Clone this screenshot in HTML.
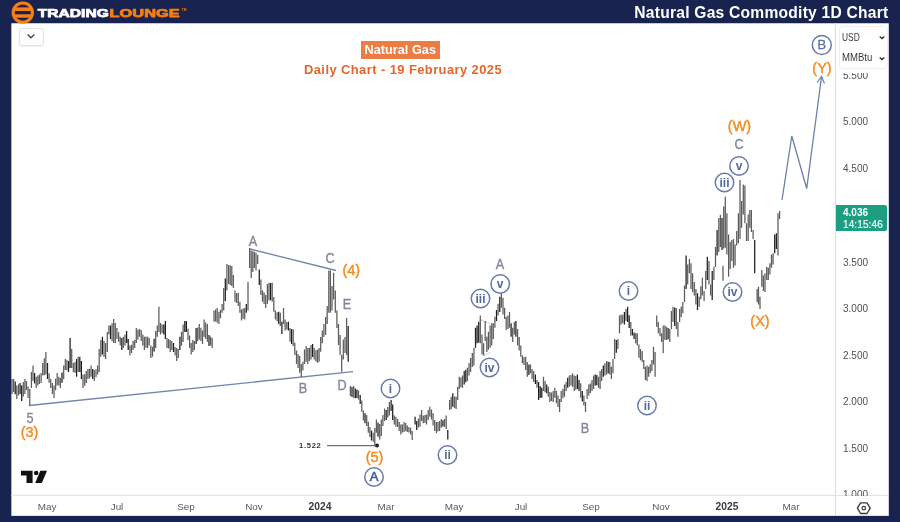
<!DOCTYPE html>
<html><head><meta charset="utf-8">
<style>
html,body{margin:0;padding:0;}
body{width:900px;height:522px;overflow:hidden;background:#18244f;font-family:"Liberation Sans",sans-serif;position:relative;}
#chart{position:absolute;left:11px;top:23px;width:878px;height:493px;background:#fff;}
#svg{position:absolute;left:0;top:0;will-change:transform;}
.t{position:absolute;white-space:nowrap;line-height:1;}
.ax{font-size:10px;color:#505050;margin-top:.5px;}
.tm{font-size:9.9px;color:#5a5a5a;top:502.3px;transform:translateX(-50%);}
.tm.b{font-weight:bold;color:#3a3a3a;font-size:10.3px;top:502px;}
.w{font-size:14px;transform:translate(-50%,-50%) scaleX(.9);}
.g{color:#82869e;-webkit-text-stroke:.35px #82869e;}
.o{color:#f78a1e;font-weight:normal;-webkit-text-stroke:.42px #f78a1e;font-size:14.5px;transform:translate(-50%,-50%);}
.c{position:absolute;width:20px;height:20px;border:0 solid #6a7dab;border-radius:50%;transform:translate(-50%,-50%);box-sizing:content-box;}
.c span{position:absolute;left:50%;top:50%;transform:translate(-50%,-52%);font-size:12px;font-weight:bold;color:#5169a1;line-height:1;white-space:nowrap;}
</style></head><body>
<svg id="svg" width="900" height="522" viewBox="0 0 900 522">
<rect x="11.35" y="23.25" width="877.45" height="492.6" fill="#fff"/>
<!-- axes -->
<line x1="11" y1="495.5" x2="889" y2="495.5" stroke="#e3e3e3" stroke-width="1"/>
<line x1="835.5" y1="23" x2="835.5" y2="516" stroke="#dcdcdc" stroke-width="1"/>
<!-- trend lines -->
<line x1="29" y1="405.5" x2="353" y2="371.7" stroke="#7485ad" stroke-width="1.3"/>
<line x1="250" y1="249" x2="336" y2="270.5" stroke="#7485ad" stroke-width="1.3"/>
<line x1="480.8" y1="319.8" x2="491.1" y2="323.9" stroke="#8b9bd0" stroke-width="0.9" stroke-dasharray="1.5 1.2"/>
<line x1="483.8" y1="356" x2="489.8" y2="352.5" stroke="#8b9bd0" stroke-width="0.9" stroke-dasharray="1.5 1.2"/>
<!-- 1.522 line -->
<line x1="327" y1="445.6" x2="376" y2="445.6" stroke="#707070" stroke-width="1.3"/>
<circle cx="377" cy="445.6" r="2" fill="#222"/>
<!-- forecast -->
<polyline points="782,200 791.8,136 806.7,188.5 821.5,77" fill="none" stroke="#6c7faa" stroke-width="1.3" stroke-linejoin="miter"/>
<polyline points="817,82.5 821.5,76.5 824.5,83.5" fill="none" stroke="#6c7faa" stroke-width="1.2"/>
<path d="M12.0 379.0V394.0M13.6 379.0V392.0M16.8 385.5V399.0M18.5 384.2V395.5M23.3 382.0V396.4M24.9 379.0V394.0M26.5 381.0V390.0M28.1 386.5V398.1M29.8 389.0V405.5M31.4 372.0V388.0M33.0 365.5V381.0M36.2 376.7V388.0M37.8 375.5V385.5M39.4 374.6V384.0M41.1 373.0V383.0M42.7 363.0V375.5M44.3 358.2V375.3M45.9 352.0V374.5M49.1 373.2V382.8M50.7 379.0V388.0M52.4 383.0V394.0M54.0 385.5V398.0M55.6 378.8V390.3M57.2 373.0V385.5M58.8 376.7V385.5M60.4 378.0V388.0M63.7 365.5V379.0M65.3 359.0V370.0M66.9 359.8V370.5M71.7 349.0V368.0M73.4 363.0V372.0M75.0 361.8V373.0M78.2 356.7V372.0M83.0 374.5V388.0M84.7 374.3V385.7M86.3 371.0V383.0M87.9 369.0V379.0M89.5 368.8V378.4M91.1 365.5V376.7M94.3 370.0V381.0M96.0 369.3V377.2M97.6 365.5V374.5M99.2 349.0V372.0M100.8 340.0V356.7M104.0 340.8V356.9M105.6 343.0V359.0M107.3 332.0V352.0M108.9 325.5V334.5M112.1 323.3V341.2M113.7 319.0V343.0M115.3 323.0V343.0M116.9 328.0V339.0M118.6 332.2V341.8M120.2 336.7V345.5M123.4 336.7V348.0M125.0 334.6V345.6M129.9 345.5V355.5M131.5 344.8V352.9M133.1 341.0V350.0M134.7 340.0V348.0M136.3 328.0V343.0M137.9 329.8V339.4M139.5 329.0V336.7M141.2 330.0V341.0M142.8 334.5V345.5M144.4 336.7V350.0M146.0 336.6V347.7M147.6 336.7V348.0M149.2 338.0V345.5M150.8 345.5V358.0M152.5 346.7V356.7M155.7 331.0V348.0M157.3 325.5V336.7M158.9 306.7V332.0M160.5 323.0V334.5M162.1 324.5V333.1M167.0 338.0V348.0M168.6 339.1V348.5M170.2 340.0V352.0M171.8 341.0V350.0M175.1 346.9V355.4M176.7 348.0V361.0M178.3 349.0V358.0M181.5 331.8V345.8M183.1 324.5V342.0M188.0 328.7V340.0M189.6 335.5V348.0M191.2 343.0V354.5M192.8 340.0V352.0M194.4 341.0V350.0M197.7 327.5V341.3M199.3 324.0V339.5M200.9 327.7V341.0M202.5 330.5V344.0M204.1 319.5V337.0M205.7 322.4V338.9M207.4 324.0V341.7M210.6 336.6V345.4M212.2 338.0V348.0M214.0 310.5V321.7M215.6 309.4V321.4M217.2 308.0V322.8M218.9 311.7V324.0M220.5 309.8V318.2M222.1 304.0V312.8M223.7 288.0V310.5M226.9 264.0V290.5M228.6 265.0V284.0M230.2 265.3V285.1M231.8 266.0V286.0M233.4 275.0V288.0M235.0 290.5V301.7M236.6 293.0V303.1M238.3 292.8V306.0M239.9 301.7V312.8M241.5 309.5V320.5M243.1 308.6V318.7M244.7 308.0V319.5M248.0 281.7V310.5M249.6 248.0V268.0M251.2 250.5V278.0M252.8 251.3V271.9M254.4 251.7V268.0M256.0 252.8V270.5M257.7 255.0V264.0M260.9 279.5V295.0M262.5 290.5V301.7M264.1 292.4V304.0M265.7 295.0V308.0M267.4 284.0V304.0M269.0 282.8V300.5M272.2 282.8V301.7M273.8 297.0V311.7M275.4 310.5V319.5M277.1 312.3V321.2M280.3 312.8V326.0M283.5 308.0V324.0M285.1 319.5V330.5M286.8 322.1V329.5M290.0 328.0V341.7M293.2 329.5V346.0M294.8 342.8V355.0M296.5 350.5V364.0M298.1 353.9V368.0M299.7 356.0V372.8M301.3 364.0V377.0M302.9 361.7V370.5M304.5 349.5V364.0M306.2 346.0V361.7M307.8 348.0V364.0M309.4 347.8V361.1M311.0 345.0V359.5M314.2 348.0V359.5M315.9 350.3V361.4M317.5 349.5V362.8M319.1 348.0V361.7M320.7 337.0V351.7M322.3 330.6V343.2M323.9 324.0V337.0M325.6 317.0V335.0M327.2 306.0V324.0M328.8 270.5V312.8M330.4 270.5V312.8M332.0 286.0V310.5M333.6 272.8V299.5M335.3 290.5V312.8M336.9 310.5V328.0M338.5 324.0V345.0M340.1 335.0V355.0M341.7 355.0V371.7M343.3 339.5V359.5M345.0 337.0V353.0M346.6 318.0V355.0M350.4 386.0V396.0M353.7 386.0V398.0M358.5 390.5V399.5M361.8 400.5V411.7M363.4 410.5V420.5M366.7 415.0V426.0M368.3 421.7V432.8M369.9 427.0V437.0M373.2 432.8V441.7M374.8 428.0V445.5M376.4 419.5V432.8M379.7 424.0V439.5M381.3 419.5V436.0M382.9 415.0V426.0M384.6 408.5V421.0M387.8 407.1V417.6M389.4 402.0V415.5M394.3 415.5V424.4M395.9 416.7V426.7M397.6 419.0V427.0M399.2 422.0V431.0M400.8 424.4V434.4M402.4 424.2V432.6M404.1 422.0V432.0M405.7 423.0V431.0M407.3 425.5V432.0M408.9 427.0V432.5M410.6 427.8V434.4M412.2 431.0V440.0M418.4 418.6V427.6M420.0 414.4V426.7M421.6 410.0V421.0M423.3 415.5V423.3M424.9 414.9V422.7M426.5 414.4V424.4M428.2 410.0V420.0M429.8 406.7V416.7M431.5 409.5V419.4M433.1 413.3V425.5M434.7 420.0V431.0M436.4 422.0V433.3M438.0 421.9V431.6M439.6 421.0V431.0M441.3 419.0V427.8M444.5 419.0V426.7M446.2 415.5V429.0M449.6 400.0V410.0M451.2 396.7V409.0M454.5 396.4V408.1M456.1 396.7V409.0M457.7 386.7V400.0M459.3 376.7V389.0M460.9 377.4V387.3M462.5 375.5V387.8M467.4 367.8V381.0M469.0 363.0V375.5M470.6 358.0V372.0M472.3 353.1V367.1M473.9 347.8V365.5M480.3 315.5V343.3M482.0 334.4V354.4M483.6 343.3V355.5M485.2 321.0V341.0M486.8 336.7V352.0M488.4 331.8V349.8M490.1 325.5V347.8M491.7 323.3V345.5M493.3 323.3V339.0M494.9 316.7V327.8M498.1 303.8V315.6M501.4 293.3V307.8M503.0 297.8V314.4M504.6 307.8V319.0M506.2 316.7V330.0M507.9 315.5V329.0M509.5 312.0V327.8M512.7 327.8V342.0M514.3 322.0V334.4M517.6 329.0V345.5M519.2 337.0V350.6M520.8 345.5V356.7M522.4 355.5V363.3M524.0 357.0V365.1M525.7 356.7V370.0M527.3 362.0V376.7M530.5 364.4V373.3M532.1 369.0V379.0M533.7 371.0V382.0M537.0 380.0V387.8M543.5 376.7V391.0M545.1 380.9V392.3M548.3 386.7V396.7M549.9 392.0V402.0M551.5 392.5V401.0M553.2 391.0V402.0M554.8 387.8V397.8M556.4 391.0V403.3M558.0 395.4V407.1M559.6 399.0V412.0M561.2 391.0V402.0M562.9 388.7V398.3M564.5 384.4V396.7M566.1 382.0V391.0M569.3 375.5V386.7M571.0 374.9V385.5M572.6 373.3V386.7M574.2 375.5V391.0M575.8 376.0V389.7M580.7 383.3V397.8M583.9 395.5V405.5M585.5 402.0V412.0M587.1 389.0V399.0M588.8 384.4V395.5M590.4 383.6V393.0M592.0 380.0V391.0M593.6 375.5V389.0M598.5 376.7V387.8M600.1 371.0V389.0M601.7 369.1V381.0M604.9 363.3V375.5M606.6 361.0V374.4M609.8 362.0V374.4M611.4 366.7V379.0M613.0 359.0V373.3M614.6 339.0V359.0M617.9 339.0V349.0M619.5 315.5V333.3M621.1 314.4V324.4M622.7 314.7V323.3M626.0 309.0V321.0M630.8 322.0V335.5M635.7 333.3V343.3M637.3 333.3V345.5M638.9 344.4V357.8M640.5 349.0V360.2M642.2 351.0V362.0M643.8 360.0V369.0M645.4 366.7V380.0M647.0 365.5V381.0M648.6 366.7V376.7M650.2 364.2V373.3M651.9 360.0V371.0M653.5 346.7V364.4M655.1 352.0V376.7M656.7 315.5V326.7M658.3 322.0V333.3M660.0 328.1V336.2M661.6 333.3V342.0M663.2 325.5V353.3M664.9 325.5V340.0M666.5 326.7V340.0M669.8 329.0V342.0M671.4 311.0V329.0M673.0 306.7V322.0M676.3 308.0V329.0M677.9 322.0V336.7M679.6 309.0V322.0M681.2 306.4V317.2M682.8 302.0V313.3M684.5 285.5V302.0M687.7 264.4V284.4M689.4 259.0V273.3M691.0 263.3V289.0M692.6 273.3V292.0M694.3 282.0V295.5M695.9 289.0V304.4M699.2 296.7V306.7M700.8 286.3V299.3M702.4 277.8V295.5M704.1 291.0V301.0M705.7 271.0V289.0M709.0 261.0V284.4M710.6 284.4V295.5M713.9 266.7V280.0M715.5 247.0V267.0M718.8 218.0V252.0M720.4 215.0V247.0M723.7 206.4V248.4M725.3 196.7V247.8M726.9 213.3V254.4M728.6 234.4V276.7M730.2 242.0V268.9M731.8 240.0V261.0M733.5 239.0V267.8M735.1 244.4V265.5M736.7 231.0V245.5M738.4 213.3V243.3M740.0 180.0V239.0M741.6 201.0V227.8M743.3 184.4V214.4M744.9 185.5V223.3M746.5 223.3V241.0M748.2 214.4V241.0M749.8 210.0V227.8M751.4 210.0V232.0M753.1 230.0V239.0M757.1 289.0V302.0M758.5 286.7V304.4M760.0 296.7V309.0M761.8 270.0V286.7M763.4 275.5V291.0M765.0 273.3V292.0M766.7 266.7V280.0M768.3 267.8V280.0M769.9 263.3V274.4M771.5 254.4V267.8M773.1 253.3V264.4M778.0 213.3V255.5M779.6 211.0V219.0M723.0 265.7V280.7" stroke="#5c5c5c" stroke-width="1.25" fill="none"/>
<path d="M15.2 381.5V394.3M20.1 383.0V394.0M21.7 385.5V401.0M34.6 372.9V383.5M47.5 363.0V379.0M62.0 372.4V382.7M68.5 361.0V372.0M70.1 338.0V368.0M76.6 359.0V376.7M79.8 356.7V372.0M81.4 361.0V379.0M92.7 369.0V379.0M102.4 336.7V354.5M110.5 325.5V339.0M121.8 338.0V350.0M126.6 331.0V343.0M128.2 339.0V350.0M154.1 338.7V351.4M163.8 324.5V334.5M165.4 321.0V339.0M173.5 343.0V352.0M179.9 336.7V350.0M184.8 321.0V332.0M186.4 321.0V332.0M196.1 328.0V344.0M209.0 335.0V346.0M225.3 278.5V301.1M246.3 304.0V312.8M259.3 269.5V285.0M270.6 283.1V300.3M278.7 311.7V324.0M281.9 321.7V334.0M288.4 321.7V330.5M291.6 328.9V344.1M312.6 344.0V357.0M348.2 326.0V361.7M352.0 387.0V397.0M355.3 388.4V398.3M356.9 389.5V398.0M360.2 395.0V404.0M365.0 413.2V423.3M371.5 430.5V440.5M378.0 422.4V436.7M386.2 410.0V420.0M391.1 400.0V411.0M392.7 404.4V420.0M415.1 416.7V424.4M416.7 421.0V430.0M442.9 420.2V426.4M447.8 430.0V439.5M452.8 393.3V406.7M464.2 371.0V384.4M465.8 369.8V382.2M475.5 327.8V347.8M477.1 325.5V343.3M478.7 321.8V342.7M496.5 310.0V321.0M499.8 296.7V312.0M511.1 323.3V336.7M515.9 321.0V336.7M528.9 364.5V374.9M535.4 374.5V383.9M538.6 382.0V400.0M540.2 386.3V398.1M541.8 387.8V397.8M546.7 384.4V393.3M567.7 377.8V387.8M577.4 374.4V389.0M579.0 380.0V391.0M582.3 391.1V401.6M595.2 374.4V385.5M596.8 375.0V385.3M603.3 365.5V376.7M608.2 361.8V373.6M616.3 340.1V352.8M624.4 312.0V324.4M627.6 306.7V322.0M629.2 315.2V328.0M632.4 329.0V335.5M634.1 332.5V339.0M668.1 327.9V339.3M674.7 307.6V326.1M686.1 255.5V289.0M697.5 293.3V310.0M707.3 256.7V280.0M712.2 271.0V300.0M717.1 230.0V255.5M722.0 218.0V250.0M754.7 240.0V273.3M774.7 234.4V253.3M776.4 233.3V249.0" stroke="#1e1e1e" stroke-width="1.25" fill="none"/>
<!-- logo -->
<defs><clipPath id="lc"><circle cx="22.8" cy="12.6" r="8.1"/></clipPath></defs>
<circle cx="22.8" cy="12.6" r="11.2" fill="#f97e10"/>
<g clip-path="url(#lc)" fill="#18244f">
<rect x="10" y="3" width="26" height="4.4"/>
<rect x="10" y="11" width="26" height="3.3"/>
<rect x="10" y="17.7" width="26" height="5"/>
</g>
<text x="37.8" y="16.7" font-family="Liberation Sans" font-weight="bold" font-size="11.7" fill="#fff" stroke="#fff" stroke-width="0.75" stroke-linejoin="round" textLength="71" lengthAdjust="spacingAndGlyphs">TRADING</text>
<text x="109.6" y="16.7" font-family="Liberation Sans" font-weight="bold" font-size="11.7" fill="#f97e10" stroke="#f97e10" stroke-width="0.75" stroke-linejoin="round" textLength="70" lengthAdjust="spacingAndGlyphs">LOUNGE</text>
<text x="181.7" y="10.9" font-family="Liberation Sans" font-weight="bold" font-size="3.2" fill="#f97e10">TM</text>
<!-- wave circles -->
<circle cx="374" cy="477" r="9.25" fill="none" stroke="#677baa" stroke-width="1.5"/>
<circle cx="390.5" cy="388.5" r="9.25" fill="none" stroke="#677baa" stroke-width="1.5"/>
<circle cx="447.5" cy="455" r="9.25" fill="none" stroke="#677baa" stroke-width="1.5"/>
<circle cx="480.5" cy="298.5" r="9.25" fill="none" stroke="#677baa" stroke-width="1.5"/>
<circle cx="489.5" cy="367.5" r="9.25" fill="none" stroke="#677baa" stroke-width="1.5"/>
<circle cx="500.2" cy="284" r="9.25" fill="none" stroke="#677baa" stroke-width="1.5"/>
<circle cx="628.5" cy="291" r="9.25" fill="none" stroke="#677baa" stroke-width="1.5"/>
<circle cx="647" cy="405.5" r="9.25" fill="none" stroke="#677baa" stroke-width="1.5"/>
<circle cx="724.5" cy="182.5" r="9.25" fill="none" stroke="#677baa" stroke-width="1.5"/>
<circle cx="732.5" cy="292" r="9.25" fill="none" stroke="#677baa" stroke-width="1.5"/>
<circle cx="739" cy="166" r="9.25" fill="none" stroke="#677baa" stroke-width="1.5"/>
<circle cx="821.8" cy="45" r="9.45" fill="none" stroke="#677baa" stroke-width="1.5"/>
<!-- TV logo -->
<path d="M21 470.8H32.6V483.1H26.5V475.6H21Z" fill="#111"/>
<circle cx="36.2" cy="473.1" r="2.25" fill="#111"/>
<path d="M40.3 470.8H47L41.8 483.1H35.2Z" fill="#111"/>
<!-- settings icon -->
<path d="M860.6 502.9H867L870.2 508.2L867 513.5H860.6L857.4 508.2Z" fill="none" stroke="#3a3a3a" stroke-width="1.35" stroke-linejoin="round"/>
<circle cx="863.8" cy="508.2" r="1.75" fill="none" stroke="#3a3a3a" stroke-width="1.2"/>
</svg>

<div id="ov" style="position:absolute;left:0;top:0;width:900px;height:522px;will-change:transform;">
<!-- header title -->
<div class="t" id="hdr" style="right:11.5px;top:5px;font-size:15.6px;font-weight:bold;color:#fff;letter-spacing:.24px;">Natural Gas Commodity 1D Chart</div>

<!-- dropdown button -->
<div style="position:absolute;left:19px;top:28px;width:23px;height:16px;border:1px solid #e2e2e2;border-radius:3px;background:#fff;box-shadow:0 1px 1px rgba(0,0,0,.06);"></div>
<svg style="position:absolute;left:26px;top:33px" width="10" height="7" viewBox="0 0 10 7"><path d="M1.6 1.6L5 4.8L8.4 1.6" fill="none" stroke="#4a4a4a" stroke-width="1.4"/></svg>

<!-- chart title -->
<div class="t" id="ng" style="left:361px;top:41.2px;width:78.5px;height:18px;background:#ec7c44;color:#fff;font-weight:bold;font-size:12.6px;line-height:18px;letter-spacing:.08px;text-align:center;">Natural Gas</div>
<div class="t" id="dc" style="left:304px;top:63.6px;font-size:12.9px;font-weight:bold;color:#e8642a;letter-spacing:.44px;">Daily Chart - 19 February 2025</div>

<!-- currency box -->
<div style="position:absolute;left:839px;top:26px;width:48.5px;height:42.5px;border:1px solid #efefef;border-radius:4px;background:#fff;box-sizing:border-box;"></div>
<div class="t" style="left:842px;top:31.6px;font-size:10.5px;color:#3a3a3a;transform-origin:0 50%;transform:scaleX(.8);">USD</div>
<div class="t" style="left:842px;top:52.2px;font-size:10.5px;color:#3a3a3a;transform-origin:0 50%;transform:scaleX(.91);">MMBtu</div>
<svg style="position:absolute;left:877.7px;top:35.3px" width="8" height="6" viewBox="0 0 8 6"><path d="M1.7 1.5L4 3.6L6.3 1.5" fill="none" stroke="#333" stroke-width="1.35"/></svg>
<svg style="position:absolute;left:877.7px;top:55.8px" width="8" height="6" viewBox="0 0 8 6"><path d="M1.7 1.5L4 3.6L6.3 1.5" fill="none" stroke="#333" stroke-width="1.35"/></svg>

<!-- price axis -->
<div class="t ax" style="left:843px;top:72.6px;height:8px;overflow:hidden;"><span style="display:block;margin-top:-2.1px;">5.500</span></div>
<div class="t ax" style="left:843px;top:116.5px;">5.000</div>
<div class="t ax" style="left:843px;top:163px;">4.500</div>
<div class="t ax" style="left:843px;top:257px;">3.500</div>
<div class="t ax" style="left:843px;top:303.5px;">3.000</div>
<div class="t ax" style="left:843px;top:350px;">2.500</div>
<div class="t ax" style="left:843px;top:396.5px;">2.000</div>
<div class="t ax" style="left:843px;top:443px;">1.500</div>
<div class="t ax" style="left:843px;top:489.5px;height:6px;overflow:hidden;">1.000</div>
<!-- current price -->
<div style="position:absolute;left:836px;top:204.8px;width:51.2px;height:26.5px;background:#1c9e83;border-radius:0 2px 2px 0;"></div>
<div class="t" style="left:843px;top:207.5px;font-size:10px;font-weight:bold;color:#fff;">4.036</div>
<div class="t" style="left:843px;top:219.5px;font-size:10px;color:#f0faf7;letter-spacing:.12px;-webkit-text-stroke:.2px #f0faf7;">14:15:46</div>

<!-- time axis -->
<div class="t tm" style="left:47px;">May</div>
<div class="t tm" style="left:117px;">Jul</div>
<div class="t tm" style="left:186px;">Sep</div>
<div class="t tm" style="left:254px;">Nov</div>
<div class="t tm b" style="left:320px;">2024</div>
<div class="t tm" style="left:386px;">Mar</div>
<div class="t tm" style="left:454px;">May</div>
<div class="t tm" style="left:521px;">Jul</div>
<div class="t tm" style="left:591px;">Sep</div>
<div class="t tm" style="left:661px;">Nov</div>
<div class="t tm b" style="left:727px;">2025</div>
<div class="t tm" style="left:791px;">Mar</div>

<!-- wave labels -->
<div class="t w g" style="left:29.5px;top:418px;">5</div>
<div class="t w o" style="left:29.5px;top:432px;">(3)</div>
<div class="t w g" style="left:252.5px;top:241px;">A</div>
<div class="t w g" style="left:330px;top:258px;">C</div>
<div class="t w o" style="left:351.3px;top:269.7px;">(4)</div>
<div class="t w g" style="left:347px;top:304px;">E</div>
<div class="t w g" style="left:303px;top:388px;">B</div>
<div class="t w g" style="left:341.5px;top:385px;">D</div>
<div class="t" style="left:299px;top:442px;font-size:7.6px;font-weight:bold;color:#333;letter-spacing:.7px;">1.522</div>
<div class="t w o" style="left:374.5px;top:457px;">(5)</div>
<div class="c" style="left:374px;top:477px;"><span style="font-size:13px;font-weight:normal;-webkit-text-stroke:.6px #425b99;color:#425b99;">A</span></div>
<div class="c" style="left:390.5px;top:388.5px;"><span>i</span></div>
<div class="c" style="left:447.5px;top:455px;"><span>ii</span></div>
<div class="c" style="left:480.5px;top:298.5px;"><span>iii</span></div>
<div class="c" style="left:489.5px;top:367.5px;"><span>iv</span></div>
<div class="c" style="left:500.2px;top:284px;"><span>v</span></div>
<div class="t w g" style="left:500.3px;top:264.2px;">A</div>
<div class="t w g" style="left:585px;top:427.5px;">B</div>
<div class="c" style="left:628.5px;top:291px;"><span>i</span></div>
<div class="c" style="left:647px;top:405.5px;"><span>ii</span></div>
<div class="c" style="left:724.5px;top:182.5px;"><span>iii</span></div>
<div class="c" style="left:732.5px;top:292px;"><span>iv</span></div>
<div class="c" style="left:739px;top:166px;"><span>v</span></div>
<div class="t w g" style="left:739px;top:144px;">C</div>
<div class="t w o" style="left:739.5px;top:126px;">(W)</div>
<div class="t w o" style="left:760px;top:321px;">(X)</div>
<div class="c" style="left:821.8px;top:45px;"><span style="font-size:13px;font-weight:normal;-webkit-text-stroke:.3px #5a70a5;color:#5a70a5;">B</span></div>
<div class="t w o" style="left:822px;top:68px;">(Y)</div>
</div>
</body></html>
